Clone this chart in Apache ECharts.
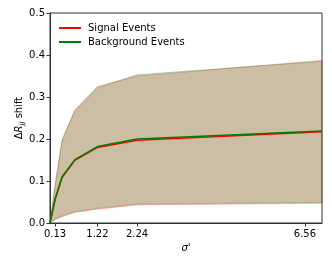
<!DOCTYPE html>
<html><head><meta charset="utf-8">
<script src="https://cdn.jsdelivr.net/npm/echarts@6/dist/echarts.min.js"></script>
<style>html,body{margin:0;padding:0;background:#fff}#c{width:332px;height:266px}</style>
</head><body><div id="c"></div>
<script>
var xs = [0, 0.13, 0.31, 0.64, 1.22, 2.24, 7.0];
var xTicks = [0.13, 1.22, 2.24, 6.56];
var signalMean  = [0, 0.055, 0.108, 0.149, 0.180, 0.197, 0.217];
var bgMean      = [0, 0.057, 0.110, 0.151, 0.182, 0.200, 0.219];
var signalUpper = [0, 0.090, 0.198, 0.269, 0.325, 0.350, 0.387];
var bgUpper     = [0, 0.088, 0.196, 0.267, 0.322, 0.353, 0.385];
var signalLower = [0, 0.008, 0.015, 0.025, 0.033, 0.043, 0.047];
var bgLower     = [0, 0.009, 0.017, 0.027, 0.035, 0.045, 0.049];

function pairs(v){ return xs.map(function(x,i){ return [x, v[i]]; }); }
function bandSeries(upper, lower, fill, edge){
  return {
    type: 'custom', silent: true, data: [0],
    renderItem: function(params, api){
      var pts = [];
      for (var i = 0; i < xs.length; i++) pts.push(api.coord([xs[i], upper[i]]));
      for (var j = xs.length - 1; j >= 0; j--) pts.push(api.coord([xs[j], lower[j]]));
      return {type: 'polygon', shape: {points: pts},
        style: {fill: fill, stroke: edge, lineWidth: 1}};
    }
  };
}

var font = 'DejaVu Sans';
var chart = echarts.init(document.getElementById('c'), null, {renderer:'canvas'});
chart.setOption({
  animation: false,
  textStyle: {fontFamily: font},
  grid: {left: 50, right: 10, top: 13, bottom: 43, show: true, borderColor: '#333', borderWidth: 1},
  legend: {
    data: ['Signal Events', 'Background Events'],
    orient: 'vertical', left: 59, top: 23, itemGap: 4, padding: 0,
    itemWidth: 22, itemHeight: 2, icon: 'rect',
    textStyle: {fontFamily: font, fontSize: 10, color: '#000', padding: [0,0,0,2]}
  },
  xAxis: {
    type: 'value', min: 0, max: 7,
    name: "σ'", nameLocation: 'middle', nameGap: 20, nameMoveOverlap: false,
    nameTextStyle: {fontFamily: font, fontSize: 10, fontStyle: 'italic', color: '#000'},
    splitLine: {show: false},
    axisLine: {lineStyle: {color: '#333', width: 1}},
    axisTick: {customValues: xTicks, length: 3.5, lineStyle: {color: '#333'}},
    axisLabel: {customValues: xTicks, fontFamily: font, fontSize: 10, color: '#000', margin: 6,
      formatter: function(v){ return v.toFixed(2); }}
  },
  yAxis: {
    type: 'value', min: 0, max: 0.5, interval: 0.1,
    name: '{n|Δ}{i|R}{s|jj}{n| shift}', nameLocation: 'middle', nameGap: 24, nameRotate: 90,
    nameMoveOverlap: false,
    nameTextStyle: {rich: {
      n: {fontFamily: font, fontSize: 10, color: '#000'},
      i: {fontFamily: font, fontSize: 10, color: '#000', fontStyle: 'italic'},
      s: {fontFamily: font, fontSize: 7, color: '#000', fontStyle: 'italic', padding: [6,0,0,0]}
    }},
    splitLine: {show: false},
    axisLine: {show: true, lineStyle: {color: '#333', width: 1}},
    axisTick: {show: true, length: 3.5, lineStyle: {color: '#333'}},
    axisLabel: {fontFamily: font, fontSize: 10, color: '#000', margin: 5,
      formatter: function(v){ return v.toFixed(1); }}
  },
  series: [
    bandSeries(signalUpper, signalLower, 'rgba(255,0,0,0.2)', 'rgba(255,0,0,0.25)'),
    bandSeries(bgUpper, bgLower, 'rgba(0,128,0,0.2)', 'rgba(0,128,0,0.25)'),
    {name: 'Signal Events', type: 'line', data: pairs(signalMean), symbol: 'none',
     itemStyle: {color: '#ff0000'}, lineStyle: {width: 1.5, color: '#ff0000'}},
    {name: 'Background Events', type: 'line', data: pairs(bgMean), symbol: 'none',
     itemStyle: {color: '#008000'}, lineStyle: {width: 1.5, color: '#008000'}}
  ]
});
</script></body></html>
